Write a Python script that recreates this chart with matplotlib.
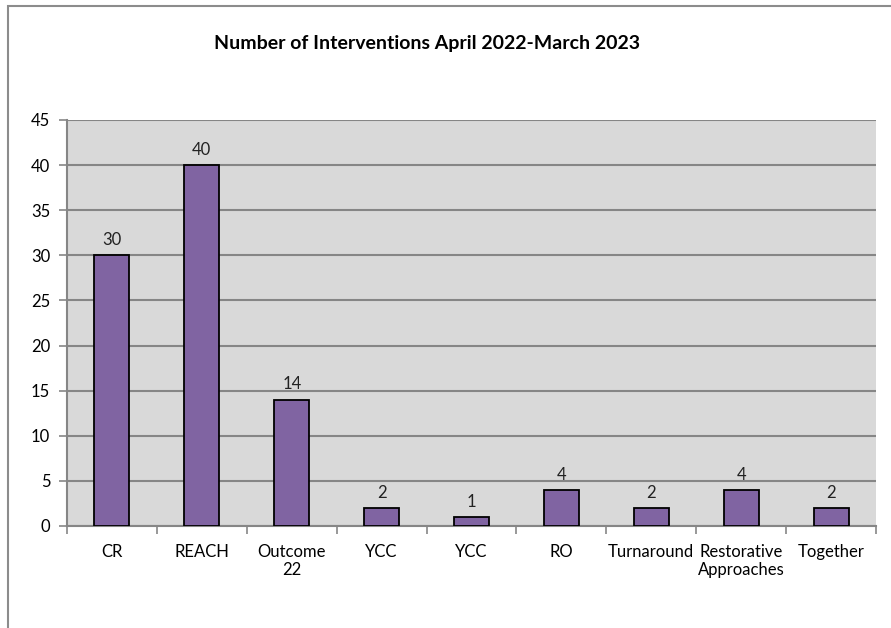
import matplotlib
matplotlib.use("Agg")
import matplotlib.pyplot as plt
from matplotlib.patches import Rectangle
import numpy as np

categories = ["CR", "REACH", "Outcome\n22", "YCC", "YCC", "RO", "Turnaround", "Restorative\nApproaches", "Together"]
values = [30, 40, 14, 2, 1, 4, 2, 4, 2]
yticks = [0, 5, 10, 15, 20, 25, 30, 35, 40, 45]
title = "Number of Interventions April 2022-March 2023"

plt.rcParams['font.family'] = ['Lato', 'DejaVu Sans']

fig = plt.figure(figsize=(8.91, 6.28), dpi=100)
fig.patches.append(Rectangle((8/891, -0.1), 1.2, (1 - 6/628) + 0.1, transform=fig.transFigure,
                             fill=False, edgecolor="#8c8c8c", linewidth=1.5))
ax = fig.add_axes([67/891, 1 - 526/628, (876 - 67)/891, (526 - 120)/628])
ax.set_facecolor("#d9d9d9")

x = np.arange(len(categories))
ax.bar(x, values, width=0.39, color="#8064a2", edgecolor="black", linewidth=1.3, zorder=3)
for xi, v in zip(x, values):
    ax.text(xi, v + 0.8, str(v), ha="center", va="bottom", fontsize=12, color="#222222")

ax.set_xlim(-0.5, len(categories) - 0.5)
ax.set_ylim(0, 45)
ax.set_yticks(yticks)
ax.set_yticklabels([str(t) for t in yticks], fontsize=12)
ax.yaxis.grid(True, color="#868686", linewidth=1.5, zorder=1)
ax.set_axisbelow(True)

ax.set_xticks(x)
ax.set_xticklabels(categories, fontsize=12, linespacing=1.15)
ax.tick_params(axis="x", length=0, pad=13)
ax.set_xticks(np.arange(-0.5, len(categories)), minor=True)
ax.tick_params(axis="x", which="minor", length=6, width=1.2, color="#868686", direction="out")
ax.tick_params(axis="y", length=6, width=1.2, color="#868686", pad=6)

for s in ["top", "right"]:
    ax.spines[s].set_visible(False)
for s in ["left", "bottom"]:
    ax.spines[s].set_color("#868686")
    ax.spines[s].set_linewidth(1.5)

fig.text(427/891, 1 - 44/628, title, ha="center", va="center", fontsize=14, fontweight="bold")

fig.savefig("out.png", dpi=100)
